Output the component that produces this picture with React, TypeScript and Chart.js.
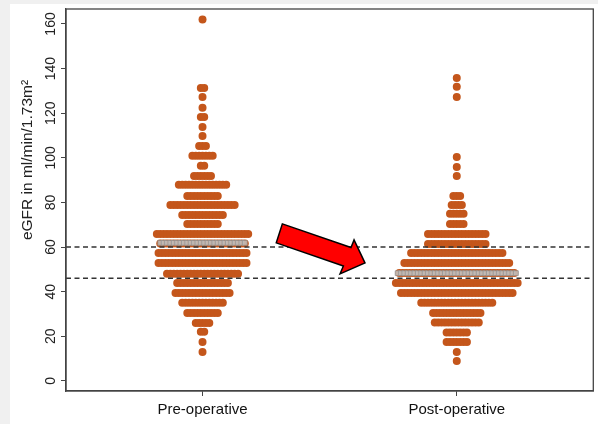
import { useEffect, useRef } from 'react';
import { Chart, registerables } from 'chart.js';

Chart.register(...registerables);

const categories = ['Pre-operative', 'Post-operative'];

const preLevels = [13, 17.5, 22, 26, 30.5, 35, 39.4, 43.9, 48, 52.9, 57.4, 61.6, 65.9, 70.4, 74.4, 78.9, 82.9, 87.9, 91.9, 96.4, 100.9, 105.3, 109.8, 113.8, 118.3, 122.4, 127.3, 131.3, 162];
const preCounts = [1, 1, 2, 5, 10, 13, 17, 16, 22, 27, 27, 26, 28, 10, 13, 20, 10, 15, 6, 2, 7, 3, 1, 1, 2, 1, 1, 2, 1];

const postLevels = [9, 13, 17.5, 21.7, 26.2, 30.5, 35, 39.4, 43.9, 48.4, 52.9, 57.4, 61.4, 65.9, 70.4, 74.9, 78.9, 82.9, 91.9, 95.9, 100.4, 127.3, 131.8, 135.8];
const postCounts = [1, 1, 7, 7, 14, 15, 22, 34, 37, 35, 32, 28, 18, 18, 5, 5, 4, 3, 1, 1, 1, 1, 1, 1];

const medianValues = [61.9, 48.3];
const medianCounts = [26, 36];
const thresholdValues = [60, 46];
const yTickValues = [0, 20, 40, 60, 80, 100, 120, 140, 160];
const yTitle = 'eGFR in ml/min/1.73m²';

// red arrow annotation, in data units (x: group axis, y: eGFR)
const arrowShape = [
  [1.314, 70.4],
  [1.584, 59.8],
  [1.596, 63.2],
  [1.639, 52.9],
  [1.541, 48.0],
  [1.554, 51.5],
  [1.29, 61.9],
];

const X_MIN = 0.463;
const X_MAX = 2.537;
const Y_MIN = -4.5;
const Y_MAX = 166.7;
const DOT_STEP = 0.0133;
const FONT = '"Liberation Sans", Arial, sans-serif';
const DOT_COLOR = '#C4561B';

function rowPoints(center: number, levels: number[], counts: number[]) {
  const pts: { x: number; y: number }[] = [];
  levels.forEach((y, r) => {
    const n = counts[r];
    for (let i = 0; i < n; i++) pts.push({ x: center + (i - (n - 1) / 2) * DOT_STEP, y });
  });
  return pts;
}

export default function App() {
  const ref = useRef<HTMLCanvasElement | null>(null);

  useEffect(() => {
    document.body.style.margin = '0';
    const canvas = ref.current;
    if (!canvas) return;

    const bgPlugin = {
      id: 'bg',
      beforeDraw(chart: any) {
        const { ctx, width, height } = chart;
        ctx.save();
        ctx.fillStyle = '#f0f0f0';
        ctx.fillRect(0, 0, width, height);
        ctx.fillStyle = '#ffffff';
        ctx.fillRect(10, 4, width - 10, height - 4);
        ctx.restore();
      },
    };

    const decoPlugin = {
      id: 'deco',
      afterDatasetsDraw(chart: any) {
        const { ctx } = chart;
        const xs = chart.scales.x;
        const ys = chart.scales.y;
        ctx.save();
        ctx.beginPath();
        arrowShape.forEach(([vx, vy], i) => {
          const px = xs.getPixelForValue(vx);
          const py = ys.getPixelForValue(vy);
          if (i === 0) ctx.moveTo(px, py);
          else ctx.lineTo(px, py);
        });
        ctx.closePath();
        ctx.fillStyle = '#ff0000';
        ctx.fill();
        ctx.lineWidth = 1.5;
        ctx.lineJoin = 'miter';
        ctx.strokeStyle = '#000';
        ctx.stroke();
        ctx.restore();
      },
      afterDraw(chart: any) {
        const { ctx, chartArea } = chart;
        const ys = chart.scales.y;
        ctx.save();
        ctx.strokeStyle = '#444';
        ctx.lineWidth = 1.3;
        ctx.strokeRect(chartArea.left, chartArea.top, chartArea.right - chartArea.left, chartArea.bottom - chartArea.top);
        ctx.fillStyle = '#222';
        ctx.font = `14px ${FONT}`;
        ctx.textAlign = 'center';
        ctx.textBaseline = 'middle';
        yTickValues.forEach((v) => {
          const py = ys.getPixelForValue(v);
          ctx.save();
          ctx.translate(51, py);
          ctx.rotate(-Math.PI / 2);
          ctx.fillText(String(v), 0, 0);
          ctx.restore();
        });
        ctx.font = `15.5px ${FONT}`;
        ctx.translate(28, 160);
        ctx.rotate(-Math.PI / 2);
        ctx.fillText(yTitle, 0, 0);
        ctx.restore();
      },
    };

    const chart = new Chart(canvas, {
      type: 'scatter',
      data: {
        datasets: [
          ...thresholdValues.map((t) => ({
            type: 'line' as const,
            data: [
              { x: X_MIN, y: t },
              { x: X_MAX, y: t },
            ],
            borderColor: '#333',
            borderWidth: 1.5,
            borderDash: [5, 3.5],
            pointRadius: 0,
            order: 0,
          })),
          {
            data: [
              ...rowPoints(1, [medianValues[0]], [medianCounts[0]]),
              ...rowPoints(2, [medianValues[1]], [medianCounts[1]]),
            ],
            pointStyle: 'rect',
            pointRadius: 3.4,
            backgroundColor: 'rgba(195,190,185,0.9)',
            borderColor: '#8f8f8f',
            borderWidth: 0.7,
            order: 1,
          },
          {
            data: [...rowPoints(1, preLevels, preCounts), ...rowPoints(2, postLevels, postCounts)],
            pointRadius: 4,
            backgroundColor: DOT_COLOR,
            borderWidth: 0,
            order: 2,
          },
        ],
      },
      options: {
        responsive: false,
        animation: false,
        layout: { padding: { left: 61, right: 3, top: 9, bottom: 0 } },
        plugins: { legend: { display: false }, tooltip: { enabled: false } },
        scales: {
          x: {
            type: 'linear',
            min: X_MIN,
            max: X_MAX,
            afterBuildTicks: (scale: any) => {
              scale.ticks = categories.map((_, i) => ({ value: i + 1 }));
            },
            ticks: {
              callback: (v: any) => categories[Math.round(Number(v)) - 1] ?? '',
              font: { family: FONT, size: 15 },
              color: '#111',
              padding: 5,
              maxRotation: 0,
              autoSkip: false,
            },
            grid: { drawOnChartArea: false, drawTicks: true, tickLength: 5, color: '#444' },
            border: { display: true, color: '#444', width: 1.3 },
          },
          y: {
            type: 'linear',
            min: Y_MIN,
            max: Y_MAX,
            afterBuildTicks: (scale: any) => {
              scale.ticks = yTickValues.map((v) => ({ value: v }));
            },
            ticks: { display: false },
            grid: { drawOnChartArea: false, drawTicks: true, tickLength: 5, color: '#444' },
            border: { display: true, color: '#444', width: 1.3 },
          },
        },
      },
      plugins: [bgPlugin, decoPlugin],
    });

    return () => chart.destroy();
  }, []);

  return (
    <div style={{ width: 598, height: 424 }}>
      <canvas ref={ref} width={598} height={424} />
    </div>
  );
}
